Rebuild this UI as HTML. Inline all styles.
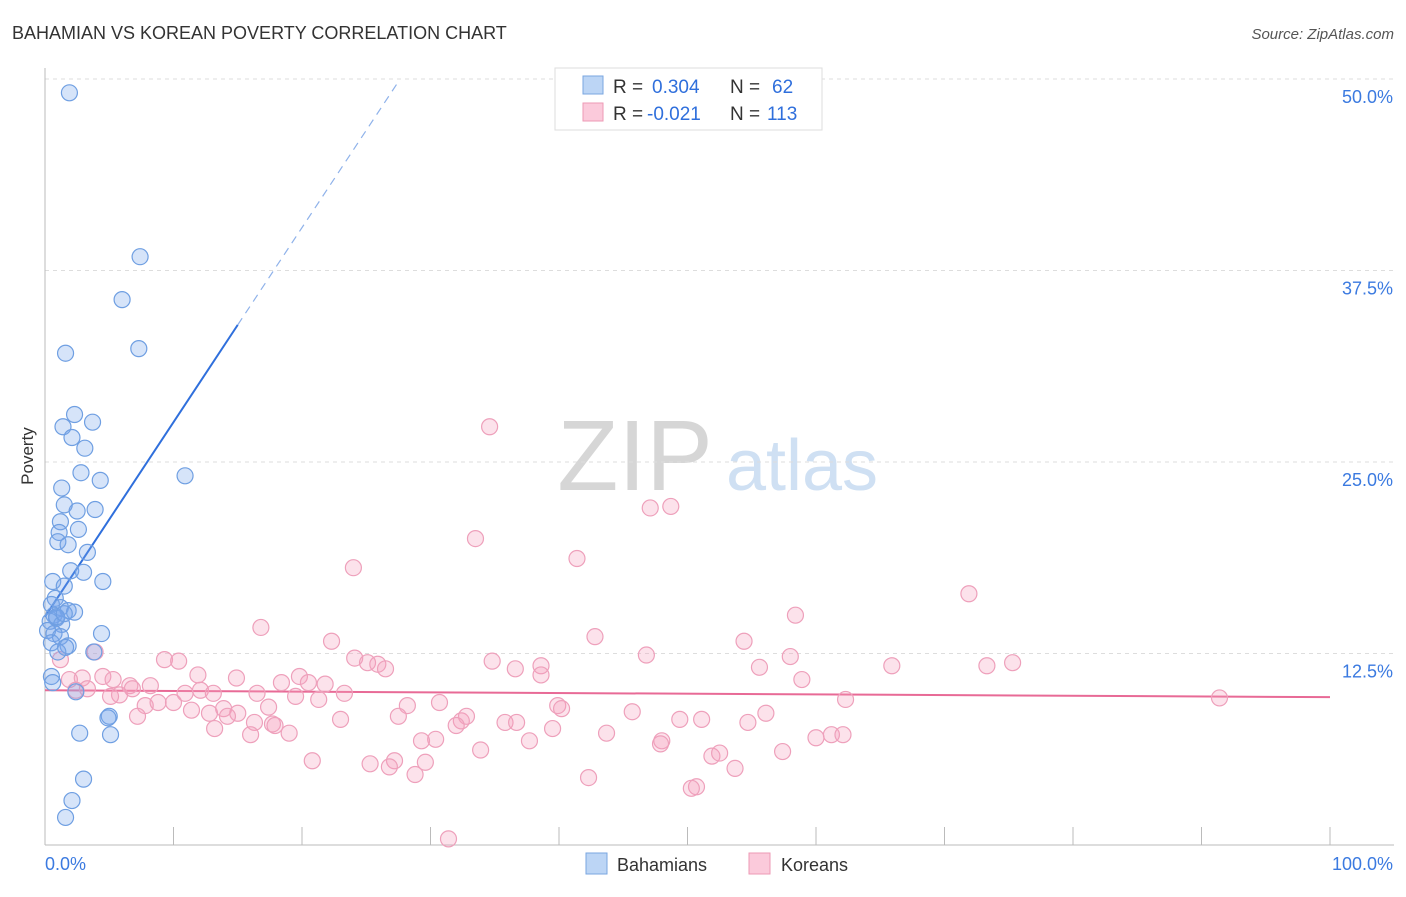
<!DOCTYPE html>
<html><head><meta charset="utf-8"><style>
body{margin:0;background:#fff;font-family:"Liberation Sans",sans-serif}
svg text{font-family:"Liberation Sans",sans-serif}
</style></head><body>
<svg id="c" width="1406" height="892" viewBox="0 0 1406 892" xmlns="http://www.w3.org/2000/svg">
<text x="12" y="39" font-size="18" fill="#333">BAHAMIAN VS KOREAN POVERTY CORRELATION CHART</text>
<text x="1394" y="39" font-size="15" fill="#555" font-style="italic" text-anchor="end">Source: ZipAtlas.com</text>
<text x="33" y="456" font-size="17" fill="#333" transform="rotate(-90 33 456)" text-anchor="middle">Poverty</text>
<g><text x="635" y="490" font-size="100" fill="#d6d6d6" font-family="Liberation Serif" text-anchor="middle">ZIP</text><text x="802" y="490" font-size="72" fill="#cfe0f3" text-anchor="middle">atlas</text></g>
<g id="grid"></g><g id="axes"></g><g id="lines"></g><g id="pts"></g>
<g>
<rect x="555" y="68" width="267" height="62" fill="#fff" stroke="#ddd"/>
<rect x="583" y="76" width="20" height="18" fill="#bcd5f5" stroke="#7aa6e0"/>
<rect x="583" y="103" width="20" height="18" fill="#fbcadb" stroke="#ee9ab5"/>
<text x="613" y="93" font-size="19" fill="#333">R =</text>
<text x="652" y="93" font-size="19" fill="#2f6fdc">0.304</text>
<text x="730" y="93" font-size="19" fill="#333">N =</text>
<text x="772" y="93" font-size="19" fill="#2f6fdc">62</text>
<text x="613" y="120" font-size="19" fill="#333">R =</text>
<text x="647" y="120" font-size="19" fill="#2f6fdc">-0.021</text>
<text x="730" y="120" font-size="19" fill="#333">N =</text>
<text x="767" y="120" font-size="19" fill="#2f6fdc">113</text>
</g>
<g>
<rect x="586" y="853" width="21" height="21" fill="#bcd5f5" stroke="#7aa6e0"/>
<text x="617" y="871" font-size="18" fill="#333">Bahamians</text>
<rect x="749" y="853" width="21" height="21" fill="#fbcadb" stroke="#ee9ab5"/>
<text x="781" y="871" font-size="18" fill="#333">Koreans</text>
</g>
</svg>
<script>
const yTicks=[12.5,25,37.5,50];
const yTickLabels=["12.5%","25.0%","37.5%","50.0%"];
const xTicks=[0,10,20,30,40,50,60,70,80,90,100];
const bahX=[1.9,7.4,6.0,1.6,7.3,2.3,3.7,1.4,2.1,3.1,2.8,10.9,1.3,4.3,1.5,2.5,3.9,1.2,2.6,1.1,1.0,1.8,3.3,2.0,3.0,0.6,4.5,1.5,0.8,0.5,1.2,1.8,2.3,0.7,0.9,0.4,1.3,0.2,0.7,1.2,4.4,0.5,1.8,3.8,1.0,1.6,0.5,0.6,2.4,5.0,4.9,2.7,5.1,3.0,2.1,1.6,0.9,1.5];
const bahY=[49.1,38.4,35.6,32.1,32.4,28.1,27.6,27.3,26.6,25.9,24.3,24.1,23.3,23.8,22.2,21.8,21.9,21.1,20.6,20.4,19.8,19.6,19.1,17.9,17.8,17.2,17.2,16.9,16.1,15.7,15.5,15.3,15.2,15.0,14.8,14.6,14.4,14.0,13.8,13.6,13.8,13.2,13.0,12.6,12.6,12.9,11.0,10.6,10.0,8.4,8.3,7.3,7.2,4.3,2.9,1.8,14.9,15.1];
const korX=[34.6,47.1,48.7,33.5,41.4,24.0,71.9,58.4,16.8,42.8,22.3,54.4,9.3,10.4,46.8,24.1,25.1,25.9,26.5,34.8,38.6,36.6,55.6,58.0,65.9,73.3,75.3,3.9,1.2,11.9,14.9,19.8,20.5,21.8,18.4,4.5,5.3,6.6,8.2,1.9,2.9,3.3,2.4,5.8,5.1,10.9,12.1,13.1,16.5,19.5,23.3,21.3,58.9,62.3,91.4,38.6,28.2,30.7,7.8,8.8,10.0,11.4,13.9,17.4,12.8,15.0,27.5,7.2,14.2,32.4,32.8,39.9,40.2,45.7,56.1,49.4,51.1,54.7,23.0,16.3,17.7,13.2,17.9,19.0,32.0,35.8,36.7,39.5,43.7,16.0,30.4,29.3,37.7,48.0,47.9,60.0,61.2,62.1,57.4,33.9,51.9,52.5,20.8,25.3,27.2,29.6,26.8,53.7,28.8,42.3,50.7,50.3,31.4,6.8];
const korY=[27.3,22.0,22.1,20.0,18.7,18.1,16.4,15.0,14.2,13.6,13.3,13.3,12.1,12.0,12.4,12.2,11.9,11.8,11.5,12.0,11.7,11.5,11.6,12.3,11.7,11.7,11.9,12.6,12.1,11.1,10.9,11.0,10.6,10.5,10.6,11.0,10.8,10.4,10.4,10.8,10.9,10.2,10.1,9.8,9.7,9.9,10.1,9.9,9.9,9.7,9.9,9.5,10.8,9.5,9.6,11.1,9.1,9.3,9.1,9.3,9.3,8.8,8.9,9.0,8.6,8.6,8.4,8.4,8.4,8.1,8.4,9.1,8.9,8.7,8.6,8.2,8.2,8.0,8.2,8.0,7.9,7.6,7.8,7.3,7.8,8.0,8.0,7.6,7.3,7.2,6.9,6.8,6.8,6.8,6.6,7.0,7.2,7.2,6.1,6.2,5.8,6.0,5.5,5.3,5.5,5.4,5.1,5.0,4.6,4.4,3.8,3.7,0.4,10.2];
const bahFit=[14.9,1.27];
const korFit=[10.1,-0.0045];
const X0=45,X1=1330,Y0=845,PPY=15.32;
const sx=v=>X0+(X1-X0)*v/100, sy=v=>Y0-v*PPY;
const NS="http://www.w3.org/2000/svg";
function mk(p,t,a){const e=document.createElementNS(NS,t);for(const k in a)e.setAttribute(k,a[k]);document.getElementById(p).appendChild(e);return e;}
yTicks.forEach((v,i)=>{
 const g=mk('grid','line',{x1:X0,x2:1394,y1:sy(v),y2:sy(v),stroke:'#ddd','stroke-dasharray':'4 4'});
 
 
 const t=mk('grid','text',{x:1393,y:sy(v)+24,'font-size':18,fill:'#3b7ae0','text-anchor':'end'});t.textContent=yTickLabels[i];
 
 
});
let a=mk('axes','line',{x1:X0,x2:1394,y1:Y0,y2:Y0,stroke:'#bbb'});


a=mk('axes','line',{x1:X0,x2:X0,y1:68,y2:Y0,stroke:'#bbb'});


xTicks.forEach(v=>{const t=mk('axes','line',{x1:sx(v),x2:sx(v),y1:Y0,y2:827,stroke:'#bbb'});
 
 });
let l=mk('axes','text',{x:45,y:870,'font-size':18,fill:'#3b7ae0'});l.textContent='0.0%';


l=mk('axes','text',{x:1393,y:870,'font-size':18,fill:'#3b7ae0','text-anchor':'end'});l.textContent='100.0%';


korX.forEach((x,i)=>{const c=mk('pts','circle',{cx:sx(x),cy:sy(korY[i]),r:8,fill:'rgba(245,160,190,0.3)',stroke:'#eea0bb','stroke-width':1.2});
 
 });
bahX.forEach((x,i)=>{const c=mk('pts','circle',{cx:sx(x),cy:sy(bahY[i]),r:8,fill:'rgba(120,165,235,0.3)',stroke:'#6f9fe2','stroke-width':1.2});
 
 });
const f=(fit,x)=>fit[0]+fit[1]*x;
let r=mk('lines','line',{x1:sx(0),y1:sy(f(bahFit,0)),x2:sx(15),y2:sy(f(bahFit,15)),stroke:'#2f6fdc','stroke-width':2});


r=mk('lines','line',{x1:sx(15),y1:sy(f(bahFit,15)),x2:sx(27.6),y2:sy(f(bahFit,27.6)),stroke:'#8fb2ea','stroke-width':1.2,'stroke-dasharray':'8 6'});


r=mk('lines','line',{x1:sx(0),y1:sy(f(korFit,0)),x2:sx(100),y2:sy(f(korFit,100)),stroke:'#e86a96','stroke-width':2});


</script>
</body></html>
